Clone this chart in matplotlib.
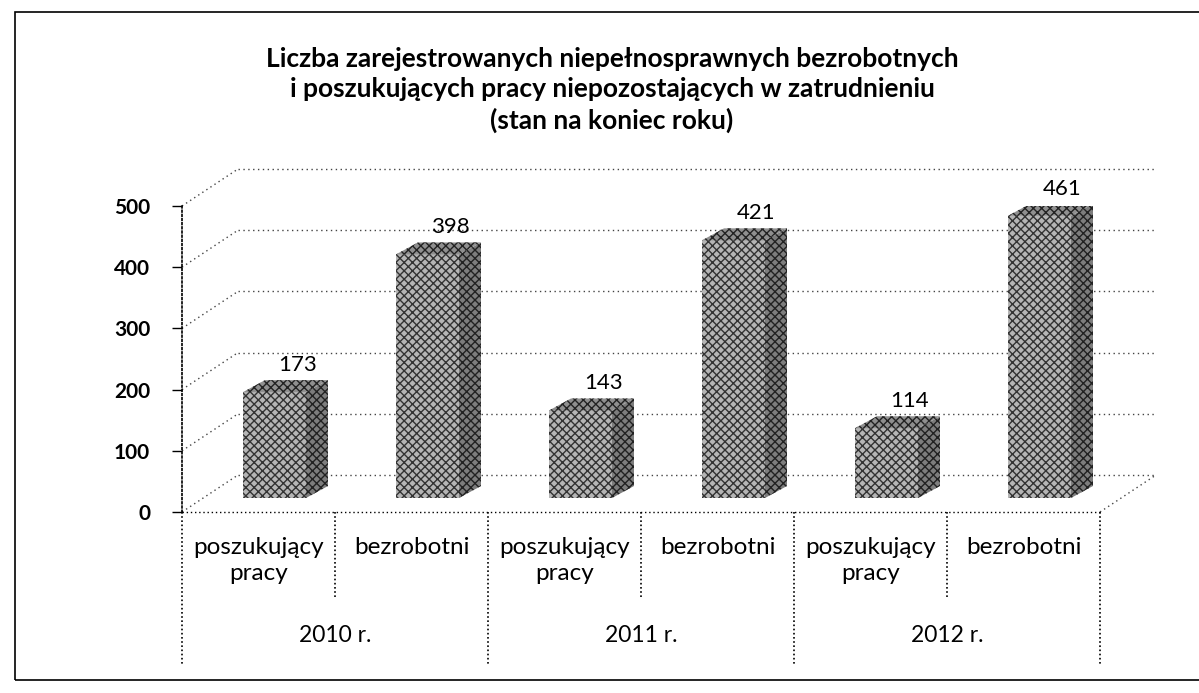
import matplotlib.pyplot as plt
from matplotlib.patches import Polygon, Rectangle
from matplotlib.transforms import blended_transform_factory

plt.rcParams['font.family'] = ['Lato', 'DejaVu Sans']

title = ("Liczba zarejestrowanych niepełnosprawnych bezrobotnych\n"
         "i poszukujących pracy niepozostających w zatrudnieniu\n"
         "(stan na koniec roku)")
years = ['2010 r.', '2011 r.', '2012 r.']
categories = ['poszukujący\npracy', 'bezrobotni'] * 3
values = [173, 398, 143, 421, 114, 461]
yticks = [0, 100, 200, 300, 400, 500]

W, H = 1199, 693
fig = plt.figure(figsize=(W / 100, H / 100), dpi=100)
ax = fig.add_axes([182 / W, 1 - 512 / H, 918 / W, 306 / H])
ax.set_xlim(0, 6)
ax.set_ylim(0, 500)

# pseudo-3d offsets (data units)
px_y = 500 / 306
DX, DY = 56 / 153, 37 * px_y          # wall depth
OX, OY = 16 / 153, 14 * px_y          # bar front offset
BW = 63 / 153                          # bar width
BDX, BDY = 22 / 153, 12 * px_y         # bar depth

dot = dict(color='#444444', lw=1.0, ls=(0, (1, 2.5)), clip_on=False, zorder=1)

# side wall diagonals + back wall gridlines
for t in yticks:
    ax.plot([0, DX], [t, t + DY], **dot)
    ax.plot([DX, 6 + DX], [t + DY, t + DY], **dot)
# floor
ax.plot([0, 6], [0, 0], color='black', lw=1.0, ls=(0, (1, 2)), clip_on=False, zorder=1)
ax.plot([6, 6 + DX], [0, DY], **dot)

for spine in ['top', 'right', 'bottom']:
    ax.spines[spine].set_visible(False)
ax.spines['left'].set_linestyle((0, (1, 1.5)))
ax.spines['left'].set_linewidth(1.2)
ax.set_xticks([])
ax.set_yticks(yticks)
ax.tick_params(axis='y', length=7, pad=16, labelsize=15, width=1)
for lab in ax.get_yticklabels():
    lab.set_fontweight('bold')
ax.patch.set_visible(False)

# bars
for i, v in enumerate(values):
    x0 = i + 0.5 - BW / 2 + OX
    y0 = OY
    front = Polygon([(x0, y0), (x0 + BW, y0), (x0 + BW, y0 + v), (x0, y0 + v)],
                    closed=True, facecolor='#b5b5b5', edgecolor='#333333',
                    hatch='xxxx', lw=0, zorder=3)
    side = Polygon([(x0 + BW, y0), (x0 + BW + BDX, y0 + BDY),
                    (x0 + BW + BDX, y0 + v + BDY), (x0 + BW, y0 + v)],
                   closed=True, facecolor='#7d7d7d', edgecolor='#222222',
                   hatch='xxxx', lw=0, zorder=3)
    top = Polygon([(x0, y0 + v), (x0 + BDX, y0 + v + BDY),
                   (x0 + BW + BDX, y0 + v + BDY), (x0 + BW, y0 + v)],
                  closed=True, facecolor='#8f8f8f', edgecolor='#222222',
                  hatch='xxxx', lw=0, zorder=3)
    for p in (front, side, top):
        ax.add_patch(p)
    ax.text(x0 + BW / 2 + 0.15, y0 + v + BDY + 5 * px_y, str(v),
            ha='center', va='bottom', fontsize=16, zorder=4)

# category axis separators and labels
trans = blended_transform_factory(ax.transData, fig.transFigure)
for b in range(7):
    y_end = 1 - (665 if b % 2 == 0 else 597) / H
    ax.plot([b, b], [1 - 512 / H, y_end], transform=trans, color='black',
            lw=1.2, ls=(0, (1, 1.5)), clip_on=False)
for i, c in enumerate(categories):
    ax.text(i + 0.5, 1 - 537 / H, c, transform=trans, ha='center', va='top',
            fontsize=17.5, linespacing=1.3)
for g, y in enumerate(years):
    ax.text(2 * g + 1, 1 - 635 / H, y, transform=trans, ha='center',
            va='center', fontsize=16.5)

fig.text(612 / W, 1 - 90 / H, title, ha='center', va='center', fontsize=19,
         fontweight='bold', linespacing=1.33)

fig.add_artist(Rectangle((15 / W, 1 - 680 / H), (W + 20) / W, 668 / H,
                         transform=fig.transFigure, fill=False, lw=1.2,
                         ec='black'))

fig.savefig('out.png', dpi=100)
